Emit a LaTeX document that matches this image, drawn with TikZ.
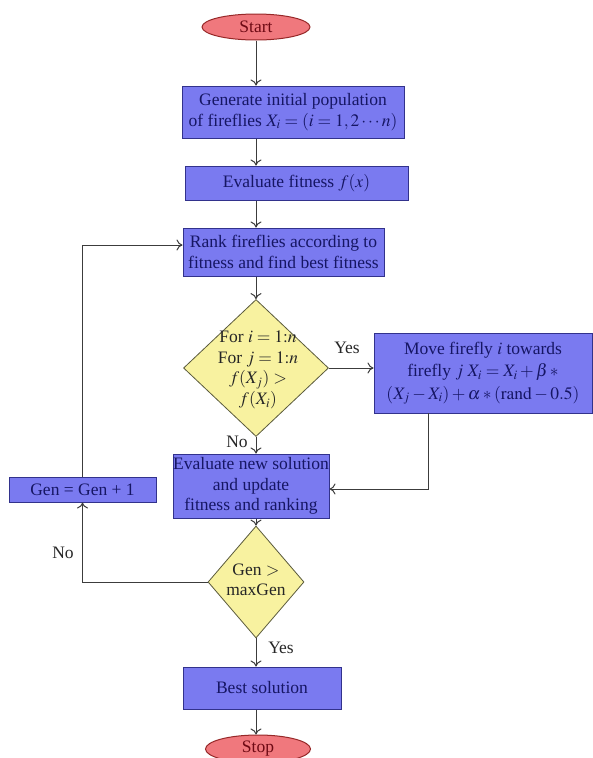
\documentclass[tikz,border=0pt]{standalone}
\usepackage{mathptmx}
\usepackage{fontspec}
\setmainfont{Liberation Serif}
\usetikzlibrary{shapes.geometric,arrows.meta,calc}
\definecolor{boxfill}{RGB}{122,122,240}
\definecolor{boxdraw}{RGB}{50,50,140}
\definecolor{boxtext}{RGB}{22,22,100}
\definecolor{dfill}{RGB}{248,242,160}
\definecolor{ddraw}{RGB}{90,90,60}
\definecolor{efill}{RGB}{240,120,125}
\definecolor{edraw}{RGB}{150,40,40}
\definecolor{etext}{RGB}{110,10,20}
\definecolor{lncol}{RGB}{60,60,60}
\begin{document}
\begin{tikzpicture}[x=1pt,y=-1pt,
  every node/.style={font=\fontsize{17.5}{20.5}\selectfont},
  procbox/.style={rectangle,draw=boxdraw,fill=boxfill,text=boxtext,line width=1pt,inner sep=0pt,align=center},
  termin/.style={ellipse,draw=edraw,fill=efill,text=etext,line width=1pt,inner sep=0pt},
  decis/.style={diamond,draw=ddraw,fill=dfill,line width=0.8pt,inner sep=0pt},
  dtext/.style={text=black!85,align=center,inner sep=0pt},
  lbl/.style={text=black!85,inner sep=0pt},
  conn/.style={draw=lncol,line width=1pt,-{To[length=6pt,width=11pt]}}]
\useasboundingbox (0,0) rectangle (593,758);
\node[termin,minimum width=108pt,minimum height=26pt] (start) at (256,27) {Start};
\node[procbox,minimum width=222pt,minimum height=52pt] (gen) at (293,112) {Generate initial population\\of fireflies $X_i=(i=1,2\cdots n)$};
\node[procbox,minimum width=223pt,minimum height=34pt] (eval) at (296.5,183) {Evaluate fitness $f(x)$};
\node[procbox,minimum width=201pt,minimum height=48pt] (rank) at (283.5,252) {Rank fireflies according to\\fitness and find best fitness};
\node[decis,minimum width=145pt,minimum height=137pt] (d1) at (256,368) {};
\node[dtext] (d1t) at (258,370) {For $i=1{:}n$\\For $j=1{:}n$\\$f(X_j)>$\\$f(X_i)$};
\node[procbox,minimum width=218pt,minimum height=80pt,font=\fontsize{17.5}{22.5}\selectfont] (move) at (483,373) {Move firefly $i$ towards\\firefly $j$ $X_i=X_i+\beta\,*$\\$(X_j-X_i)+\alpha*(\mathrm{rand}-0.5)$};
\node[procbox,minimum width=156pt,minimum height=64pt] (evnew) at (251,486) {Evaluate new solution\\and update\\fitness and ranking};
\node[procbox,minimum width=147pt,minimum height=25pt] (genp) at (82.5,489.5) {Gen = Gen + 1};
\node[decis,minimum width=96pt,minimum height=112pt] (d2) at (256,582) {};
\node[dtext] (d2t) at (256,580) {Gen $>$\\maxGen};
\node[procbox,minimum width=158pt,minimum height=42pt] (best) at (262,688) {Best solution};
\node[termin,minimum width=105pt,minimum height=28pt] (stop) at (258,749) {Stop};
\coordinate (mv) at (428,413);
\node[lbl] (yes1) at (347,348) {Yes};
\node[lbl] (no1) at (237,442) {No};
\node[lbl] (no2) at (63,553) {No};
\node[lbl] (yes2) at (281,648) {Yes};
\draw[conn] (start.south) -- (start.south |- gen.north);
\draw[conn] (start.south |- gen.south) -- (start.south |- eval.north);
\draw[conn] (start.south |- eval.south) -- (start.south |- rank.north);
\draw[conn] (start.south |- rank.south) -- (d1.north);
\draw[conn] (d1.east) -- (d1.east -| move.west);
\draw[conn] (d1.south) -- (d1.south |- evnew.north);
\draw[conn] (mv) |- ([yshift=-3pt]evnew.east);
\draw[conn] (d1.south |- evnew.south) -- (d2.north);
\draw[conn] (d2.west) -| (genp.south);
\draw[conn] (genp.north) |- ([yshift=7pt]rank.west);
\draw[conn] (d2.south) -- (d2.south |- best.north);
\draw[conn] (d2.south |- best.south) -- (d2.south |- stop.north);
\end{tikzpicture}
\end{document}
